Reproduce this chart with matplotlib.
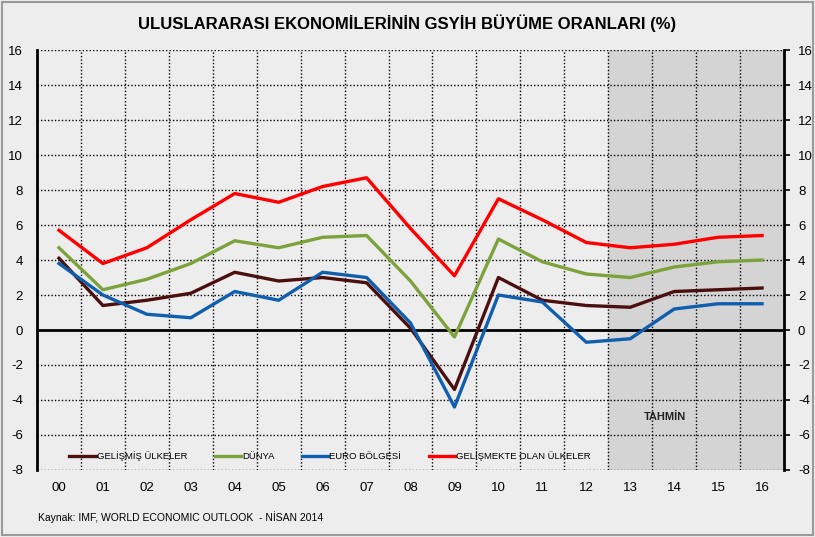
import matplotlib.pyplot as plt
from matplotlib.patches import Rectangle

plt.rcParams['font.family'] = ['Liberation Sans Narrow', 'Liberation Sans', 'DejaVu Sans']
plt.rcParams['axes.unicode_minus'] = False

years = ["00", "01", "02", "03", "04", "05", "06", "07", "08",
         "09", "10", "11", "12", "13", "14", "15", "16"]
gelismis = [4.1, 1.4, 1.7, 2.1, 3.3, 2.8, 3.0, 2.7, 0.1, -3.4, 3.0, 1.7, 1.4, 1.3, 2.2, 2.3, 2.4]
dunya = [4.7, 2.3, 2.9, 3.8, 5.1, 4.7, 5.3, 5.4, 2.8, -0.4, 5.2, 3.9, 3.2, 3.0, 3.6, 3.9, 4.0]
euro = [3.8, 2.0, 0.9, 0.7, 2.2, 1.7, 3.3, 3.0, 0.4, -4.4, 2.0, 1.6, -0.7, -0.5, 1.2, 1.5, 1.5]
gelismekte = [5.7, 3.8, 4.7, 6.3, 7.8, 7.3, 8.2, 8.7, 5.8, 3.1, 7.5, 6.3, 5.0, 4.7, 4.9, 5.3, 5.4]

bg = "#ededed"
fig = plt.figure(figsize=(8.15, 5.37), dpi=100, facecolor=bg)
fig.patches.append(Rectangle((0.002, 0.003), 0.996, 0.994, transform=fig.transFigure,
                             fill=False, edgecolor="#9a9a9a", linewidth=1.5))
ax = fig.add_axes([0.0454, 0.1248, 0.9166, 0.782], facecolor=bg)

x = list(range(len(years)))

# tahmin bölgesi
ax.axvspan(12.5, 16.5, color="#d4d4d4", zorder=0)

# ızgara
for yv in range(-8, 17, 2):
    if yv == 0:
        ax.axhline(0, color="black", linewidth=2, zorder=1)
    else:
        ax.axhline(yv, color="black", linewidth=1, linestyle=(0, (1, 1.5)), zorder=1)
for k in range(1, 17):
    ax.axvline(k - 0.5, color="black", linewidth=1, linestyle=(0, (1, 1.5)), zorder=1)

ax.plot(x, gelismis, color="#4b0f0f", linewidth=2.4, label="GELİŞMİŞ ÜLKELER", zorder=3)
ax.plot(x, dunya, color="#7ca23b", linewidth=2.4, label="DÜNYA", zorder=3)
ax.plot(x, euro, color="#0f5fae", linewidth=2.4, label="EURO BÖLGESİ", zorder=3)
ax.plot(x, gelismekte, color="#ff0000", linewidth=2.4, label="GELİŞMEKTE OLAN ÜLKELER", zorder=3)

ax.set_xlim(-0.5, 16.5)
ax.set_ylim(-8, 16)
ax.set_xticks(x)
ax.set_xticklabels(years, fontsize=9.5)
ax.set_yticks(range(-8, 17, 2))
ax.tick_params(axis="x", length=0, pad=9)
ax.tick_params(axis="y", left=False, right=True, labelleft=True, labelright=True,
               direction="out", length=4, width=1.2, labelsize=9.5, pad=6)
for s in ["top", "bottom"]:
    ax.spines[s].set_visible(False)
for s in ["left", "right"]:
    ax.spines[s].set_linewidth(2)

ax.text(13.8, -5.0, "TAHMİN", fontsize=8, fontweight="bold", ha="center", va="center", color="#222222")

ax.legend(loc="lower left", bbox_to_anchor=(0.032, 0.0), ncol=4, frameon=False,
          fontsize=6.8, handlelength=2.8, handletextpad=0.1, columnspacing=2.9)

fig.text(0.5, 0.957, "ULUSLARARASI EKONOMİLERİNİN GSYİH BÜYÜME ORANLARI (%)",
         ha="center", va="center", fontsize=12, fontweight="bold")
fig.text(0.047, 0.037, "Kaynak: IMF, WORLD ECONOMIC OUTLOOK  - NİSAN 2014",
         ha="left", va="center", fontsize=7.5)

fig.savefig("out.png", dpi=100, facecolor=bg)
